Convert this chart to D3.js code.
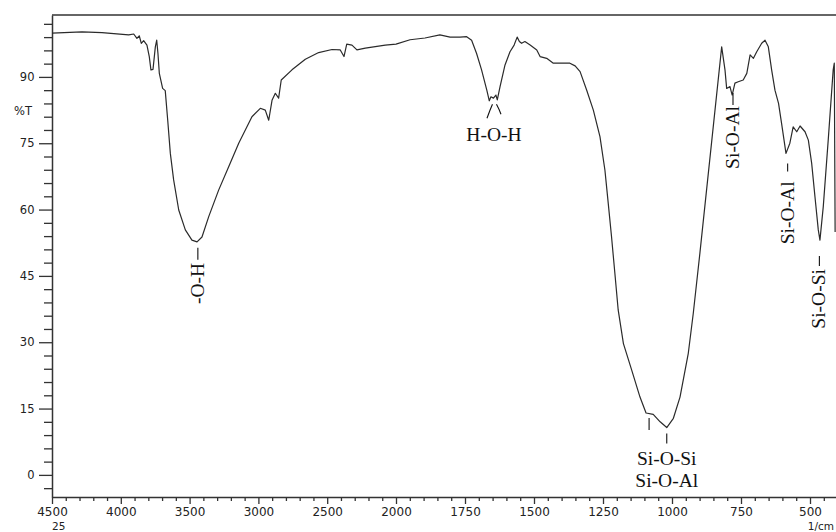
<!DOCTYPE html>
<html>
<head>
<meta charset="utf-8">
<script src="https://cdn.jsdelivr.net/npm/d3@7"></script>
<style>
  body { margin: 0; background: #fff; }
  svg { display: block; }
</style>
</head>
<body>
<svg id="chart" width="836" height="532"></svg>
<script>
// FTIR spectrum: wavenumber (1/cm) against transmittance (%T)
const wavenumbers = [
  4500, 4282, 4137, 3943, 3906, 3883, 3866, 3851, 3834, 3810, 3793, 3781, 3766,
  3749, 3739, 3730, 3720, 3696, 3677, 3659, 3640, 3616, 3579, 3531, 3483, 3446,
  3410, 3361, 3289, 3216, 3143, 3047, 2986, 2950, 2925, 2901, 2877, 2853, 2834,
  2756, 2659, 2562, 2465, 2405, 2378, 2358, 2320, 2284, 2223, 2078, 2000,
  1949, 1895, 1841, 1804, 1768, 1744, 1726, 1708, 1690, 1671, 1662, 1656, 1647,
  1638, 1633, 1623, 1605, 1587, 1572, 1561, 1553, 1545, 1533, 1514, 1490, 1478,
  1454, 1430, 1406, 1370, 1351, 1333, 1309, 1285, 1261, 1243, 1231, 1219, 1207,
  1195, 1176, 1146, 1116, 1094, 1068, 1043, 1019, 995, 971, 941, 923, 899,
  820, 808, 802, 790, 782, 772, 760, 742, 729, 717, 705, 693, 675, 663, 651, 639,
  627, 614, 603, 587, 573, 561, 548, 536, 518, 506, 494, 482, 470, 464, 452, 434,
  416, 412, 409
];
const transmittance = [
  99.9, 100.2, 100.0, 99.5, 99.7, 98.7, 99.3, 97.6, 98.2, 97.2, 94.6, 91.6, 91.7,
  96.8, 98.3, 95.3, 90.8, 87.4, 86.9, 80.2, 72.7, 66.7, 59.9, 55.4, 53.1, 52.7,
  53.8, 58.4, 64.4, 69.7, 75.0, 81.0, 82.9, 82.5, 80.2, 84.7, 86.3, 85.2, 89.3,
  91.6, 94.0, 95.5, 96.2, 96.1, 94.6, 97.4, 97.2, 96.1, 96.5, 97.2, 97.4,
  98.4, 98.8, 99.5, 99.0, 99.0, 99.1, 98.3, 95.3, 91.6, 87.0, 84.6, 85.5, 85.2,
  85.9, 84.8, 87.8, 92.7, 95.7, 97.2, 99.0, 98.0, 97.6, 98.0, 97.2, 96.1, 94.6,
  94.2, 93.1, 93.1, 93.1, 92.5, 91.2, 87.0, 82.5, 76.5, 68.9, 61.4, 53.8, 45.6,
  37.3, 29.7, 23.7, 17.6, 14.0, 13.7, 12.0, 10.7, 12.8, 17.6, 27.5, 36.5, 50.1,
  96.8, 91.6, 87.4, 87.8, 85.9, 88.6, 88.9, 89.3, 90.8, 95.0, 94.2, 95.7, 97.6, 98.3, 96.8, 91.6,
  87.0, 84.0, 79.5, 72.7, 75.0, 78.7, 77.6, 78.9, 77.6, 75.7, 70.5, 62.9, 55.4, 53.1, 60.6, 75.7,
  91.6, 93.1, 54.9
];

const yTickValues = [0, 15, 30, 45, 60, 75, 90];
const xTickValues = [4500, 4000, 3500, 3000, 2500, 2000, 1750, 1500, 1250, 1000, 750, 500];

// Band assignments written sideways next to their absorptions
const sideBandLabels = ["-O-H", "Si-O-Al", "Si-O-Al", "Si-O-Si"];
const sideBandWavenumbers = [3440, 779, 581, 466];
// Band assignments written horizontally below their absorptions
const hohLabel = "H-O-H";
const hohWavenumber = 1645;
const silicateLabels = ["Si-O-Si", "Si-O-Al"];
const silicateWavenumbers = [1083, 1019];

const svg = d3.select("#chart");
const W = 836, H = 532;
const plotLeft = 52, plotTop = 15, plotBottom = 497;

// Two-scale wavenumber axis: 4500-2000 compressed, 2000-400 expanded
const x = d3.scaleLinear().domain([4500, 2000, 400]).range([plotLeft, 396, 837.6]);
const y = d3.scaleLinear().domain([-5, 104]).range([plotBottom, plotTop]);

const axisColor = "#333";
const labelColor = "#222";
const sans = "'DejaVu Sans', Verdana, sans-serif";
const serif = "'Liberation Serif', 'Times New Roman', serif";

// minor ticks
const yMinor = d3.range(-3, 103, 3).filter(v => !yTickValues.includes(v));
const xMinor = d3.range(4500, 1999, -100).concat(d3.range(1950, 399, -50))
  .filter(v => !xTickValues.includes(v));

const gy = svg.append("g").attr("transform", `translate(${plotLeft},0)`);
gy.call(d3.axisLeft(y).tickValues(yMinor).tickSize(8).tickSizeOuter(0).tickFormat(""));
gy.call(g => g.select(".domain").remove());
const gyMajor = svg.append("g").attr("transform", `translate(${plotLeft},0)`)
  .call(d3.axisLeft(y).tickValues(yTickValues).tickSize(13).tickSizeOuter(0).tickPadding(4.5));
gyMajor.selectAll("text").attr("font-family", sans).attr("font-size", 11.5).attr("fill", labelColor);

const gx = svg.append("g").attr("transform", `translate(0,${plotBottom})`);
gx.call(d3.axisBottom(x).tickValues(xMinor).tickSize(4).tickSizeOuter(0).tickFormat(""));
gx.call(g => g.select(".domain").remove());
const gxMajor = svg.append("g").attr("transform", `translate(0,${plotBottom})`)
  .call(d3.axisBottom(x).tickValues(xTickValues).tickSize(7).tickSizeOuter(0).tickPadding(3.5).tickFormat(d3.format("d")));
gxMajor.selectAll("text").attr("font-family", sans).attr("font-size", 12).attr("fill", labelColor);

svg.selectAll(".tick line").attr("stroke", axisColor).attr("stroke-width", 1.3);
svg.selectAll(".domain").attr("stroke", axisColor).attr("stroke-width", 1.5);

// top frame line
svg.append("line").attr("x1", plotLeft).attr("x2", W).attr("y1", plotTop).attr("y2", plotTop)
  .attr("stroke", axisColor).attr("stroke-width", 1.5);

// axis captions
svg.append("text").attr("x", 14).attr("y", 115).text("%T")
  .attr("font-family", sans).attr("font-size", 11.5).attr("fill", labelColor);
svg.append("text").attr("x", 52).attr("y", 529.5).text("25")
  .attr("font-family", sans).attr("font-size", 10.5).attr("fill", labelColor);
svg.append("text").attr("x", 834).attr("y", 529.5).attr("text-anchor", "end").text("1/cm")
  .attr("font-family", sans).attr("font-size", 10.5).attr("fill", labelColor);

// spectrum
const points = wavenumbers.map((w, i) => [w, transmittance[i]]);
const line = d3.line().x(d => x(d[0])).y(d => y(d[1]));
svg.append("path").datum(points).attr("d", line)
  .attr("fill", "none").attr("stroke", "#2b2b2b").attr("stroke-width", 1.2)
  .attr("stroke-linejoin", "round");

// transmittance of the nearest sampled point
function tAt(w) {
  let best = 0;
  wavenumbers.forEach((v, i) => { if (Math.abs(v - w) < Math.abs(wavenumbers[best] - w)) best = i; });
  return transmittance[best];
}

const ink = "#111";
// sideways labels: gap below the curve, dash length, gap before text
const sideLayout = [
  { gap: 6, len: 12, textGap: 3 },
  { gap: -2, len: 12, textGap: 1 },
  { gap: 10, len: 8, textGap: 10 },
  { gap: 16, len: 10, textGap: 3 }
];
sideBandLabels.forEach((lab, i) => {
  const bx = x(sideBandWavenumbers[i]);
  const by = y(tAt(sideBandWavenumbers[i]));
  const L = sideLayout[i];
  const y0 = by + L.gap, y1 = y0 + L.len;
  svg.append("line").attr("x1", bx).attr("x2", bx).attr("y1", y0).attr("y2", y1)
    .attr("stroke", ink).attr("stroke-width", 1.1);
  svg.append("text")
    .attr("transform", `translate(${bx + 6},${y1 + L.textGap}) rotate(-90)`)
    .attr("text-anchor", "end")
    .attr("font-family", serif).attr("font-size", 19.5).attr("fill", ink)
    .text(lab);
});

// H-O-H bracket and label
{
  const hx = x(hohWavenumber);
  const y0 = y(tAt(1662)) + 3.5;
  svg.append("path")
    .attr("d", `M${hx - 1.5},${y0} L${hx - 4},${y0 + 6} L${hx - 7},${y0 + 14}`)
    .attr("fill", "none").attr("stroke", ink).attr("stroke-width", 1.1);
  svg.append("path")
    .attr("d", `M${hx + 2.5},${y0} L${hx + 5},${y0 + 5} L${hx + 7},${y0 + 10}`)
    .attr("fill", "none").attr("stroke", ink).attr("stroke-width", 1.1);
  svg.append("text").attr("x", hx).attr("y", y0 + 37).attr("text-anchor", "middle")
    .attr("font-family", serif).attr("font-size", 19.5).attr("fill", ink).text(hohLabel);
}

// Si-O-Si / Si-O-Al marks and stacked label
{
  const lx = x(silicateWavenumbers[0]);
  const rx = x(silicateWavenumbers[1]);
  const ly = y(tAt(1094)) + 5;
  const ry = y(tAt(silicateWavenumbers[1])) + 6;
  svg.append("line").attr("x1", lx).attr("x2", lx).attr("y1", ly).attr("y2", ly + 12)
    .attr("stroke", ink).attr("stroke-width", 1.1);
  svg.append("line").attr("x1", rx).attr("x2", rx).attr("y1", ry).attr("y2", ry + 10)
    .attr("stroke", ink).attr("stroke-width", 1.1);
  silicateLabels.forEach((lab, i) => {
    svg.append("text").attr("x", rx).attr("y", ry + 31 + i * 22).attr("text-anchor", "middle")
      .attr("font-family", serif).attr("font-size", 19.5).attr("fill", ink).text(lab);
  });
}
</script>
</body>
</html>
